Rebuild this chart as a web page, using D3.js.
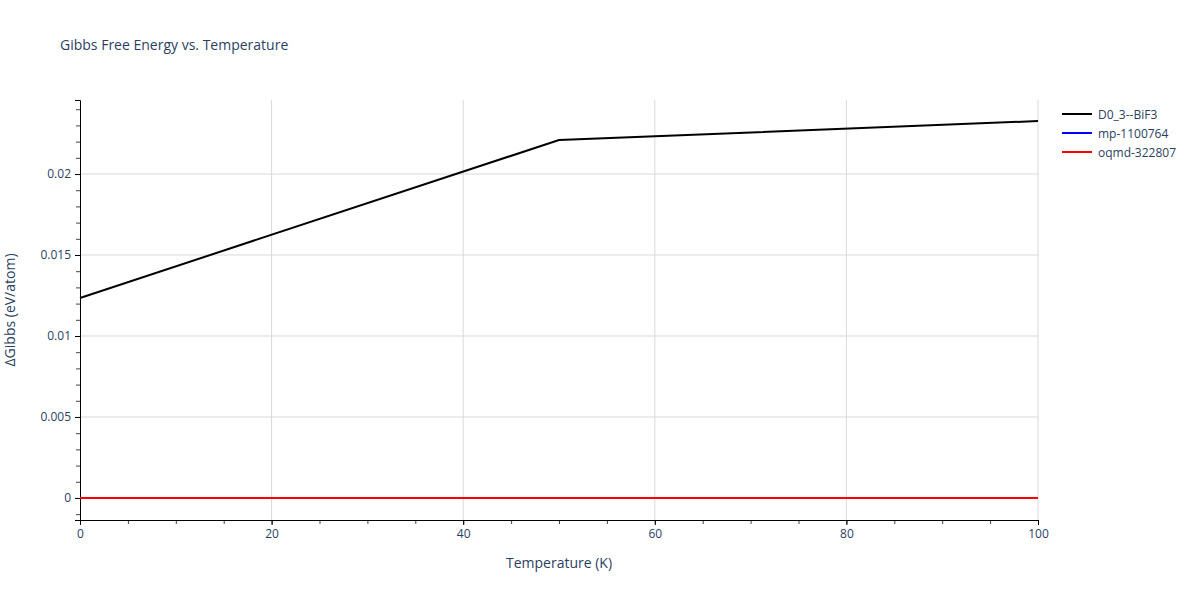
<!DOCTYPE html>
<html>
<head>
<meta charset="utf-8">
<script src="https://cdn.jsdelivr.net/npm/d3@7"></script>
<style>
  body { margin: 0; background: #fff; }
  text { font-family: "Open Sans", "Noto Sans", sans-serif; fill: #2a3f5f; }
</style>
</head>
<body>
<script>
// series data
var seriesNames = ["D0_3--BiF3", "mp-1100764", "oqmd-322807"];
var seriesColors = ["#000000", "#0000ff", "#ff0000"];
var temps = [0, 50, 100];
var d03Values = [0.01235, 0.0221, 0.02327];
var mpValues = [0, 0, 0];
var oqmdValues = [0, 0, 0];
var xTicks = [0, 20, 40, 60, 80, 100];
var yTicks = [0, 0.005, 0.01, 0.015, 0.02];

(function(){
var width = 1200, height = 600,
    padL = 80, padR = 1038, padT = 100, padB = 520;

var svg = d3.select("body").append("svg")
    .attr("width", width).attr("height", height);

var x = d3.scaleLinear().domain([0, 100]).range([padL, padR]);
var y = d3.scaleLinear().domain([-0.00136, 0.02457]).range([padB, padT]);

// grid
svg.append("g").selectAll("line").data(xTicks.slice(1)).enter().append("line")
    .attr("x1", d => x(d)).attr("x2", d => x(d))
    .attr("y1", padT).attr("y2", padB)
    .attr("stroke", "#d9d9d9");
svg.append("g").selectAll("line").data(yTicks).enter().append("line")
    .attr("x1", padL).attr("x2", padR)
    .attr("y1", d => y(d)).attr("y2", d => y(d))
    .attr("stroke", "#d9d9d9");

// x axis
var xMinor = d3.range(0, 101, 5);
svg.append("g").attr("transform", "translate(0," + padB + ")")
    .call(d3.axisBottom(x).tickValues(xMinor).tickSize(4).tickFormat(""))
    .call(g => g.select(".domain").remove())
    .call(g => g.selectAll("line").attr("stroke", "#444"));
svg.append("g").attr("transform", "translate(0," + padB + ")")
    .call(d3.axisBottom(x).tickValues(xTicks).tickSize(5).tickPadding(4).tickFormat(d3.format("d")))
    .call(g => g.select(".domain").attr("stroke", "#000"))
    .call(g => g.selectAll("line").attr("stroke", "#000"))
    .call(g => g.selectAll("text").style("font-size", "12px").attr("fill", "#2a3f5f"));

// y axis
var yMinor = d3.range(-1, 25).map(d => d / 1000);
svg.append("g").attr("transform", "translate(" + padL + ",0)")
    .call(d3.axisLeft(y).tickValues(yMinor).tickSize(4).tickFormat(""))
    .call(g => g.select(".domain").remove())
    .call(g => g.selectAll("line").attr("stroke", "#444"));
svg.append("g").attr("transform", "translate(" + padL + ",0)")
    .call(d3.axisLeft(y).tickValues(yTicks).tickSize(5).tickPadding(4)
        .tickFormat(d => d === 0 ? "0" : String(+d.toFixed(3))))
    .call(g => g.select(".domain").attr("stroke", "#000"))
    .call(g => g.selectAll("line").attr("stroke", "#000"))
    .call(g => g.selectAll("text").style("font-size", "12px").attr("fill", "#2a3f5f"));

// lines
var line = d3.line().x((d, i) => x(temps[i])).y(d => y(d));
[d03Values, mpValues, oqmdValues].forEach(function(vals, i){
  svg.append("path").datum(vals)
      .attr("d", line).attr("fill", "none")
      .attr("stroke", seriesColors[i]).attr("stroke-width", 2);
});

// titles
svg.append("text").attr("x", 60).attr("y", 50).style("font-size", "14px")
    .text("Gibbs Free Energy vs. Temperature");
svg.append("text").attr("x", (padL + padR) / 2).attr("y", 568)
    .attr("text-anchor", "middle").style("font-size", "14px").text("Temperature (K)");
svg.append("text").attr("transform", "translate(15," + ((padT + padB) / 2) + ") rotate(-90)")
    .attr("text-anchor", "middle").style("font-size", "14px").text("ΔGibbs (eV/atom)");

// legend
var legend = svg.append("g").selectAll("g").data(seriesNames).enter().append("g")
    .attr("transform", (d, i) => "translate(1062," + (114 + i * 19) + ")");
legend.append("line").attr("x1", 0).attr("x2", 30)
    .attr("stroke", (d, i) => seriesColors[i]).attr("stroke-width", 2);
legend.append("text").attr("x", 36).attr("y", 4.5).style("font-size", "12px").text(d => d);
})();
</script>
</body>
</html>
